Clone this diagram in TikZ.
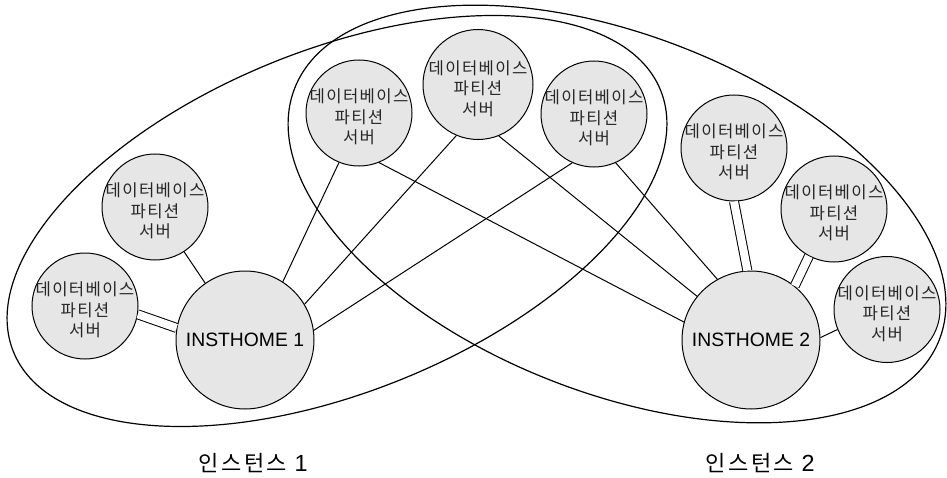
\documentclass[tikz,border=0pt]{standalone}
\usepackage{fontspec}
\setmainfont{Liberation Sans}
\newfontfamily\krfont[LetterSpace=8]{Noto Sans CJK KR}
\newfontfamily\krlabelfont[LetterSpace=12]{Noto Sans CJK KR}
\newcommand{\dbtext}{데이터베이스\\파티션\\서버}
\begin{document}
\begin{tikzpicture}[x=0.75pt,y=0.75pt,
  srvtext/.style={align=center, inner sep=0pt, yshift=-3pt,
    font=\krfont\fontsize{12.5}{15.5}\selectfont, text=black!85},
  dbsrv/.style={circle, draw=black, line width=0.75pt, fill=nodegray,
    minimum size=79.5pt, inner sep=0pt,
    label={[srvtext]center:\dbtext}},
  home/.style={circle, draw=black, line width=0.75pt, fill=nodegray,
    minimum size=103.5pt, inner sep=0pt,
    font=\fontsize{14.5}{17}\selectfont},
  groupline/.style={draw=black, line width=0.9pt},
  link/.style={draw=black, line width=0.75pt},
  duallink/.style={draw=black, line width=0.75pt, double=white, double distance=6pt},
  grouplabel/.style={inner sep=1pt, font=\krlabelfont\fontsize{16.5}{19}\selectfont}
]
\definecolor{nodegray}{HTML}{E6E6E6}
\useasboundingbox (0,0) rectangle (947,-478);

% instance boundaries
\draw[groupline, rotate around={22:(337,-221)}] (337,-221) ellipse [x radius=349, y radius=171];
\draw[groupline, rotate around={-21.3:(617,-214)}] (617,-214) ellipse [x radius=346, y radius=179];

% instance home directories
\node[home] (h1) at (245,-340) {INSTHOME 1};
\node[home] (h2) at (751,-340) {INSTHOME 2};

% database partition servers
\node[dbsrv] (ca) at (155,-207) {};
\node[dbsrv] (ch) at (85,-306) {};
\node[dbsrv] (cb) at (359,-113) {};
\node[dbsrv, minimum size=82.5pt] (cc) at (478,-84.5) {};
\node[dbsrv] (cd) at (594,-114) {};
\node[dbsrv] (ce) at (734,-148) {};
\node[dbsrv] (cf) at (834,-209) {};
\node[dbsrv] (cg) at (887,-309.5) {};

% connections
\draw[link] (ca.-57) -- (h1.125.7);
\draw[duallink] (ch.-9.7) -- (h1.170.5);
\draw[link] (cb.-112.8) -- (h1.57.5);
\draw[link] (cb.-68.2) -- (h2.165.2);
\draw[link] (cc.-113.9) -- (h1.31.1);
\draw[link] (cc.-68) -- (h2.141.5);
\draw[link] (cd.-114.2) -- (h1.8.4);
\draw[link] (cd.-66.8) -- (h2.119.5);
\draw[duallink] (ce.-90) -- (h2.93);
\draw[duallink] (cf.-118.7) -- (h2.51.9);
\draw[link] (cg.-158.8) -- (h2.2.5);

% instance names
\node[grouplabel] (lab1) at (253,-463) {인스턴스 {\rmfamily\fontsize{17.5}{19}\selectfont 1}};
\node[grouplabel] (lab2) at (760,-463) {인스턴스 {\rmfamily\fontsize{17.5}{19}\selectfont 2}};
\end{tikzpicture}
\end{document}
